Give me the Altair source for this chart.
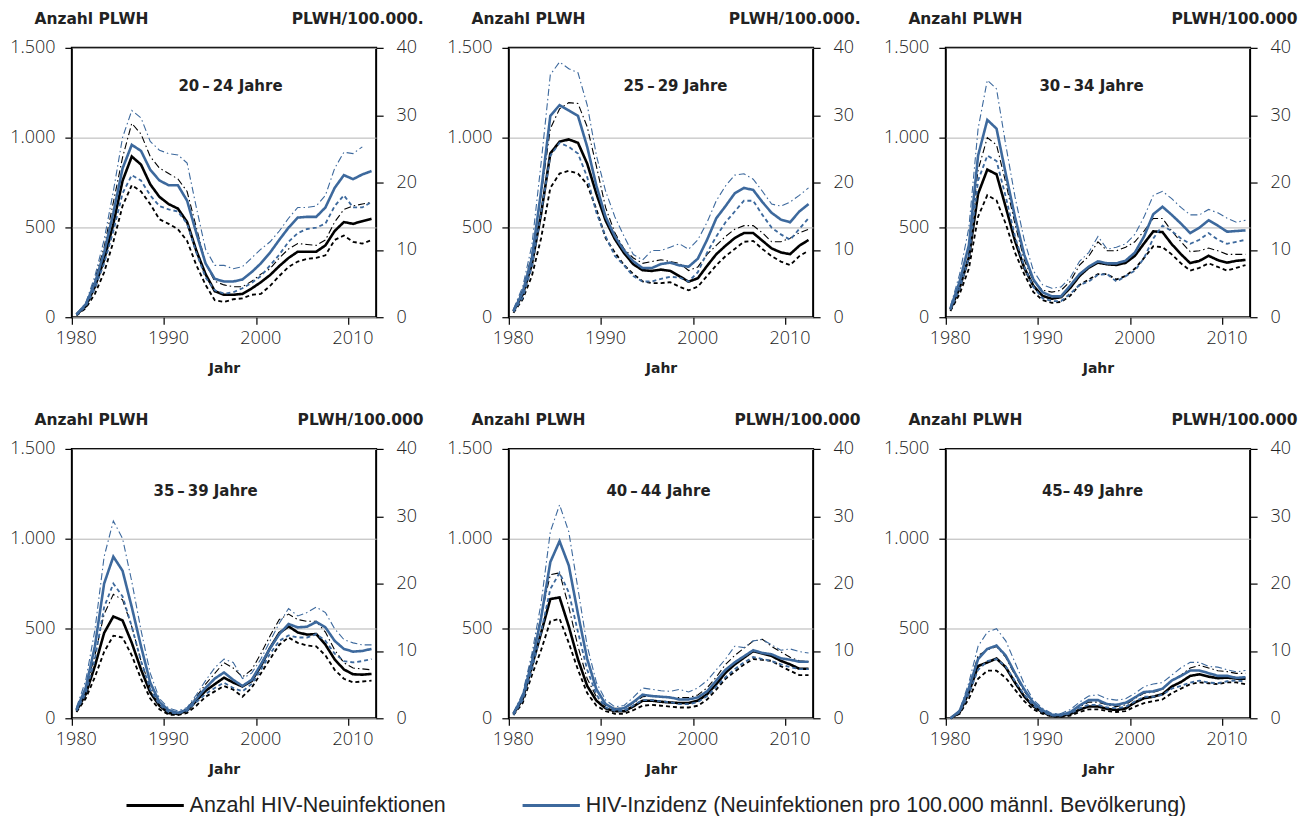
import altair as alt
import pandas as pd

JAHRE = list(range(1980, 2013))

GRUPPEN = ["20\u2009\u2013\u200924 Jahre", "25\u2009\u2013\u200929 Jahre", "30\u2009\u2013\u200934 Jahre",
           "35\u2009\u2013\u200939 Jahre", "40\u2009\u2013\u200944 Jahre", "45\u2013\u200949 Jahre"]
RECHTS_TITEL = ["PLWH/100.000.", "PLWH/100.000.", "PLWH/100.000",
                "PLWH/100.000", "PLWH/100.000", "PLWH/100.000"]

LEG_ANZ = "Anzahl HIV-Neuinfektionen"
LEG_INZ = "HIV-Inzidenz (Neuinfektionen pro 100.000 männl. Bevölkerung)"

# ---- Anzahl HIV-Neuinfektionen (linke Achse) ----
ANZ_20 = [15, 60, 170, 320, 520, 760, 895, 850, 740, 670, 630, 605, 530, 370, 240, 145, 125, 125, 130, 160, 195, 235, 285, 330, 365, 365, 365, 400, 480, 530, 520, 535, 548]
ANZ_20_LO = [10, 50, 130, 250, 420, 620, 735, 700, 630, 545, 520, 490, 425, 290, 180, 95, 85, 100, 105, 125, 130, 175, 230, 280, 310, 325, 330, 345, 430, 455, 420, 410, 430]
ANZ_20_HI = [20, 70, 210, 390, 640, 890, 1080, 1020, 895, 830, 800, 770, 700, 500, 300, 200, 180, 170, 170, 200, 240, 270, 330, 380, 410, 405, 400, 430, 530, 600, 620, 630, 640]

ANZ_25 = [34, 127, 295, 575, 912, 977, 990, 971, 855, 687, 538, 435, 357, 295, 262, 258, 265, 258, 228, 198, 217, 286, 351, 398, 441, 469, 469, 426, 383, 361, 351, 398, 430]
ANZ_25_LO = [25, 100, 230, 440, 720, 800, 815, 800, 740, 600, 440, 360, 290, 240, 200, 190, 190, 195, 170, 150, 170, 230, 290, 340, 380, 420, 425, 380, 340, 310, 290, 340, 370]
ANZ_25_HI = [40, 150, 350, 680, 1050, 1160, 1195, 1190, 1060, 840, 610, 470, 380, 330, 300, 310, 320, 310, 300, 260, 280, 350, 400, 450, 490, 510, 510, 470, 420, 420, 440, 470, 490]

ANZ_30 = [43, 164, 333, 687, 822, 796, 613, 426, 276, 174, 118, 103, 112, 164, 230, 276, 304, 295, 291, 303, 342, 411, 478, 474, 407, 351, 301, 314, 342, 318, 304, 314, 319]
ANZ_30_LO = [35, 130, 270, 560, 680, 650, 520, 360, 240, 140, 95, 80, 85, 120, 180, 210, 240, 240, 210, 230, 270, 330, 395, 390, 350, 300, 260, 275, 300, 280, 260, 275, 290]
ANZ_30_HI = [50, 200, 400, 820, 1000, 960, 750, 520, 320, 200, 150, 140, 150, 200, 290, 340, 420, 370, 370, 390, 420, 480, 550, 550, 480, 420, 365, 370, 385, 370, 350, 350, 350]

ANZ_35 = [42, 134, 291, 475, 567, 545, 420, 272, 144, 70, 29, 24, 42, 98, 153, 190, 226, 199, 177, 208, 291, 392, 475, 512, 478, 466, 469, 410, 328, 272, 245, 243, 247]
ANZ_35_LO = [35, 110, 230, 370, 460, 450, 350, 220, 110, 50, 20, 18, 30, 70, 120, 150, 180, 160, 120, 170, 250, 330, 410, 450, 420, 405, 400, 350, 270, 220, 200, 205, 210]
ANZ_35_HI = [50, 160, 350, 580, 690, 660, 510, 320, 170, 90, 40, 30, 55, 120, 190, 250, 310, 280, 230, 270, 360, 460, 550, 580, 550, 540, 540, 480, 380, 310, 280, 275, 270]

ANZ_40 = [24, 107, 291, 475, 664, 673, 512, 328, 180, 98, 55, 39, 39, 66, 98, 98, 92, 88, 85, 85, 98, 134, 190, 254, 300, 337, 374, 361, 347, 320, 300, 276, 276]
ANZ_40_LO = [18, 85, 240, 380, 540, 555, 420, 270, 140, 70, 40, 25, 25, 45, 70, 75, 70, 65, 60, 60, 70, 105, 160, 220, 260, 300, 330, 325, 320, 290, 265, 240, 240]
ANZ_40_HI = [30, 130, 340, 570, 800, 810, 620, 400, 220, 120, 70, 55, 55, 85, 120, 125, 120, 115, 115, 115, 130, 170, 230, 300, 350, 390, 430, 440, 400, 370, 340, 320, 315]

ANZ_45 = [0, 33, 144, 291, 311, 333, 284, 199, 122, 66, 33, 15, 11, 24, 48, 66, 66, 52, 46, 55, 88, 112, 120, 134, 177, 202, 236, 245, 232, 223, 227, 221, 221]
ANZ_45_LO = [0, 25, 110, 220, 265, 265, 225, 160, 95, 50, 25, 10, 8, 15, 35, 50, 50, 40, 35, 40, 65, 85, 95, 105, 140, 165, 190, 200, 195, 190, 200, 200, 190]
ANZ_45_HI = [0, 40, 170, 350, 380, 400, 340, 240, 150, 85, 45, 22, 18, 35, 65, 90, 90, 75, 65, 75, 110, 140, 145, 160, 210, 240, 280, 295, 280, 265, 260, 250, 250]

# ---- HIV-Inzidenz pro 100.000 (rechte Achse) ----
INZ_20 = [0.4, 1.9, 5.1, 9.6, 15.5, 22.1, 25.6, 24.7, 21.9, 20.3, 19.6, 19.6, 17.3, 12.5, 8.0, 5.7, 5.3, 5.3, 5.6, 6.7, 8.0, 9.6, 11.5, 13.3, 14.8, 14.9, 14.9, 16.3, 19.2, 21.1, 20.5, 21.2, 21.7]
INZ_20_LO = [0.3, 1.6, 4.3, 8.0, 12.8, 18.4, 21.1, 20.3, 18.1, 16.5, 16.0, 15.7, 13.9, 9.6, 5.9, 4.0, 3.5, 3.7, 4.3, 5.1, 6.1, 7.7, 9.3, 11.2, 12.5, 13.1, 13.3, 13.9, 16.5, 18.1, 16.3, 16.3, 17.1]
INZ_20_HI = [0.5, 2.1, 6.1, 11.5, 18.7, 26.7, 30.7, 29.6, 26.1, 24.8, 24.3, 24.1, 22.9, 16.3, 10.1, 7.7, 7.7, 7.2, 7.5, 8.8, 10.1, 11.2, 12.8, 14.7, 16.3, 16.3, 16.5, 18.1, 22.1, 24.5, 24.3, 25.3, None]

INZ_25 = [0.9, 3.7, 8.8, 18.7, 29.9, 31.5, 30.7, 29.9, 25.3, 19.5, 14.9, 12.0, 9.9, 8.3, 7.3, 7.3, 7.9, 8.1, 7.7, 7.5, 8.7, 11.5, 14.7, 16.5, 18.4, 19.2, 18.9, 17.1, 15.5, 14.5, 14.1, 15.7, 16.8]
INZ_25_LO = [0.8, 2.9, 7.5, 15.5, 24.0, 25.9, 25.3, 24.3, 20.8, 15.5, 12.0, 9.1, 7.7, 6.1, 5.3, 5.3, 5.7, 6.0, 5.9, 5.3, 6.7, 9.6, 12.0, 14.1, 15.7, 17.3, 17.3, 15.2, 13.3, 12.3, 11.5, 13.1, 14.7]
INZ_25_HI = [1.2, 4.5, 10.7, 22.9, 36.0, 37.9, 36.9, 36.3, 31.5, 24.0, 18.7, 14.9, 12.0, 9.3, 8.5, 9.9, 9.9, 10.4, 10.9, 10.1, 11.5, 14.1, 17.3, 19.5, 21.1, 21.3, 20.5, 18.7, 16.8, 16.5, 17.1, 18.1, 19.2]

INZ_30 = [1.3, 5.3, 10.7, 24.0, 29.3, 28.0, 21.3, 14.9, 9.3, 5.6, 3.7, 3.1, 3.1, 4.7, 6.4, 7.5, 8.3, 8.0, 8.0, 8.4, 9.6, 12.0, 15.3, 16.4, 15.2, 13.9, 12.5, 13.3, 14.4, 13.6, 12.7, 12.8, 12.9]
INZ_30_LO = [1.1, 4.3, 8.8, 20.3, 24.0, 23.2, 17.9, 12.0, 7.5, 4.5, 2.8, 2.4, 2.4, 3.5, 4.8, 5.3, 6.3, 6.4, 5.3, 6.1, 6.9, 8.8, 11.7, 13.6, 12.8, 11.7, 10.9, 11.5, 12.5, 11.5, 10.9, 11.2, 11.5]
INZ_30_HI = [1.6, 6.4, 13.3, 28.0, 35.2, 33.9, 25.6, 17.9, 11.5, 6.9, 4.8, 4.3, 4.5, 5.9, 8.3, 9.6, 12.0, 10.1, 10.4, 10.9, 12.3, 14.9, 18.1, 18.7, 17.6, 16.3, 15.2, 15.2, 16.0, 15.5, 14.7, 14.1, 14.4]

INZ_35 = [1.3, 4.5, 10.7, 20.0, 24.0, 21.9, 16.5, 10.7, 5.3, 2.4, 1.2, 0.8, 1.3, 2.9, 4.5, 5.9, 6.8, 5.7, 4.8, 5.7, 8.0, 10.4, 12.5, 14.0, 13.5, 13.6, 14.3, 13.5, 11.5, 10.3, 9.9, 10.0, 10.3]
INZ_35_LO = [1.1, 3.7, 8.8, 16.5, 20.0, 18.1, 13.6, 8.5, 4.3, 2.0, 0.9, 0.7, 1.1, 2.4, 3.6, 4.5, 5.3, 4.5, 4.0, 5.1, 7.2, 9.6, 11.5, 12.3, 12.0, 12.0, 12.5, 11.5, 9.6, 8.5, 8.3, 8.5, 8.8]
INZ_35_HI = [1.6, 5.6, 13.1, 24.0, 29.3, 26.7, 20.3, 13.1, 6.7, 2.9, 1.5, 1.1, 1.6, 3.5, 5.6, 7.5, 8.8, 8.3, 5.9, 6.7, 8.8, 11.5, 14.1, 16.3, 15.2, 15.7, 16.5, 15.7, 13.3, 11.7, 11.2, 10.9, 10.9]

INZ_40 = [0.7, 3.2, 8.3, 14.9, 23.2, 26.3, 22.7, 15.5, 8.8, 4.3, 2.1, 1.3, 1.5, 2.4, 3.5, 3.3, 3.2, 3.1, 2.8, 2.8, 3.1, 4.0, 5.6, 7.2, 8.3, 9.2, 10.1, 9.7, 9.5, 8.9, 8.7, 8.4, 8.4]
INZ_40_LO = [0.5, 2.7, 7.2, 12.8, 19.2, 21.6, 18.7, 12.8, 7.2, 3.5, 1.6, 1.1, 1.1, 1.9, 2.7, 2.7, 2.5, 2.4, 2.1, 2.1, 2.4, 3.3, 4.7, 6.1, 7.3, 8.3, 9.1, 8.8, 8.5, 8.0, 7.6, 7.3, 7.3]
INZ_40_HI = [0.8, 3.7, 9.6, 17.1, 27.7, 31.7, 27.7, 19.2, 10.7, 5.3, 2.7, 1.7, 1.9, 3.1, 4.5, 4.3, 4.1, 4.0, 4.3, 3.9, 4.5, 5.6, 7.2, 8.8, 10.7, 10.5, 11.5, 11.7, 10.9, 10.1, 10.3, 9.9, 9.7]

INZ_45 = [0.0, 1.1, 4.5, 8.8, 10.3, 10.8, 9.3, 6.7, 4.3, 2.3, 1.2, 0.5, 0.5, 0.9, 1.9, 2.7, 2.7, 2.1, 2.0, 2.3, 3.1, 3.9, 4.0, 4.4, 5.6, 6.3, 7.1, 7.1, 6.7, 6.3, 6.3, 6.0, 6.1]
INZ_45_LO = [0.0, 0.9, 3.7, 7.2, 8.5, 8.8, 7.7, 5.5, 3.5, 1.9, 0.9, 0.4, 0.4, 0.7, 1.5, 2.0, 2.0, 1.6, 1.5, 1.7, 2.5, 3.2, 3.2, 3.5, 4.4, 4.8, 5.3, 5.6, 5.3, 5.2, 5.5, 5.6, 5.5]
INZ_45_HI = [0.0, 1.2, 5.3, 10.7, 12.8, 13.3, 11.5, 8.3, 5.1, 2.7, 1.5, 0.7, 0.7, 1.3, 2.4, 3.3, 3.5, 2.9, 2.7, 2.9, 3.7, 4.7, 5.1, 5.3, 6.4, 7.5, 8.3, 8.3, 7.7, 7.6, 7.2, 6.9, 7.1]

PANELS = [
    (ANZ_20, ANZ_20_LO, ANZ_20_HI, INZ_20, INZ_20_LO, INZ_20_HI),
    (ANZ_25, ANZ_25_LO, ANZ_25_HI, INZ_25, INZ_25_LO, INZ_25_HI),
    (ANZ_30, ANZ_30_LO, ANZ_30_HI, INZ_30, INZ_30_LO, INZ_30_HI),
    (ANZ_35, ANZ_35_LO, ANZ_35_HI, INZ_35, INZ_35_LO, INZ_35_HI),
    (ANZ_40, ANZ_40_LO, ANZ_40_HI, INZ_40, INZ_40_LO, INZ_40_HI),
    (ANZ_45, ANZ_45_LO, ANZ_45_HI, INZ_45, INZ_45_LO, INZ_45_HI),
]

# layout constants
W, H = 305, 270
TITLE_X = [159, 167, 146, 134, 150, 147]
TITLE_Y = [38, 38, 38, 42, 42, 42]

BLUE = "#3d699d"
FONT = "Open Sans"
BOLD = "DejaVu Sans"

color_scale = alt.Scale(domain=[LEG_ANZ, LEG_INZ], range=["#000000", BLUE])
dash_scale = alt.Scale(domain=["mitte", "unten", "oben"], range=[[1, 0], [4, 3], [7, 3, 1.5, 3]])
width_scale = alt.Scale(domain=["mitte", "unten", "oben"], range=[2.6, 1.1, 1.1])

legend = alt.Legend(
    title=None, orient="none", legendX=53, legendY=729, direction="horizontal",
    symbolType="stroke", symbolSize=3300, symbolStrokeWidth=3,
    labelFont="Liberation Sans", labelFontSize=21.5, labelColor="#222222", labelLimit=800,
    columnPadding=70, labelOffset=4,
)


def panel(i):
    anz, anz_lo, anz_hi, inz, inz_lo, inz_hi = PANELS[i]
    rows = []
    for seite, leg, series in [
        ("links", LEG_ANZ, [("mitte", anz), ("unten", anz_lo), ("oben", anz_hi)]),
        ("rechts", LEG_INZ, [("mitte", inz), ("unten", inz_lo), ("oben", inz_hi)]),
    ]:
        for art, vals in series:
            for j, v in zip(JAHRE, vals):
                rows.append({"jahr": j, "wert": v, "art": art, "seite": seite, "legende": leg})
    df = pd.DataFrame(rows)

    base = alt.Chart(df).transform_calculate(xpos="datum.jahr + 0.5")

    xenc = alt.X(
        "xpos:Q",
        scale=alt.Scale(domain=[1980, 2013], nice=False, zero=False),
        axis=alt.Axis(values=[1980, 1990, 2000, 2010], format="d", title="Jahr",
                      labelFlush=False, labelOffset=4, labelPadding=5, titlePadding=14,
                      grid=False),
    )
    common = dict(
        x=xenc,
        color=alt.Color("legende:N", scale=color_scale, legend=legend),
        strokeDash=alt.StrokeDash("art:N", scale=dash_scale, legend=None),
        strokeWidth=alt.StrokeWidth("art:N", scale=width_scale, legend=None),
    )

    left = base.transform_filter("datum.seite == 'links'").mark_line().encode(
        y=alt.Y("wert:Q", scale=alt.Scale(domain=[0, 1500], nice=False),
                axis=alt.Axis(values=[0, 500, 1000, 1500], grid=True, orient="left",
                              labelExpr="replace(format(datum.value, ','), ',', '.')",
                              title="Anzahl PLWH", titleAngle=0, titleAlign="left",
                              titleBaseline="middle", titleX=-38, titleY=-29,
                              titleFontSize=15.5, labelPadding=10)),
        **common,
    )
    right = base.transform_filter("datum.seite == 'rechts'").mark_line().encode(
        y=alt.Y("wert:Q", scale=alt.Scale(domain=[0, 40], nice=False),
                axis=alt.Axis(values=[0, 10, 20, 30, 40], grid=False, orient="right",
                              title=RECHTS_TITEL[i], titleAngle=0, titleAlign="right",
                              titleBaseline="middle", titleX=47, titleY=-29,
                              titleFontSize=15.5, labelPadding=13)),
        **common,
    )
    label = alt.Chart(pd.DataFrame({"gruppe": [GRUPPEN[i]]})).mark_text(
        font=BOLD, fontSize=15, fontWeight="bold", color="#222222"
    ).encode(text="gruppe:N", x=alt.value(TITLE_X[i]), y=alt.value(TITLE_Y[i]))

    return alt.layer(left, right, label).resolve_scale(y="independent").properties(width=W, height=H)


chart = alt.concat(*[panel(i) for i in range(6)], columns=3, spacing={"row": 132, "column": 133},
                   bounds="flush").properties(
    padding={"left": 0, "top": 2, "right": 0, "bottom": 0}
).configure_view(
    stroke="#000000", strokeWidth=2
).configure_axis(
    domain=False, tickColor="#000000", tickWidth=1.2, tickSize=7,
    labelFont=FONT, labelFontSize=18, labelFontWeight=300, labelColor="#222222",
    titleFont=BOLD, titleFontSize=14, titleFontWeight="bold", titleColor="#222222",
    gridColor="#b4b4b4", gridWidth=1,
)

chart.save("out.html", embed_options={"renderer": "svg", "actions": False})
